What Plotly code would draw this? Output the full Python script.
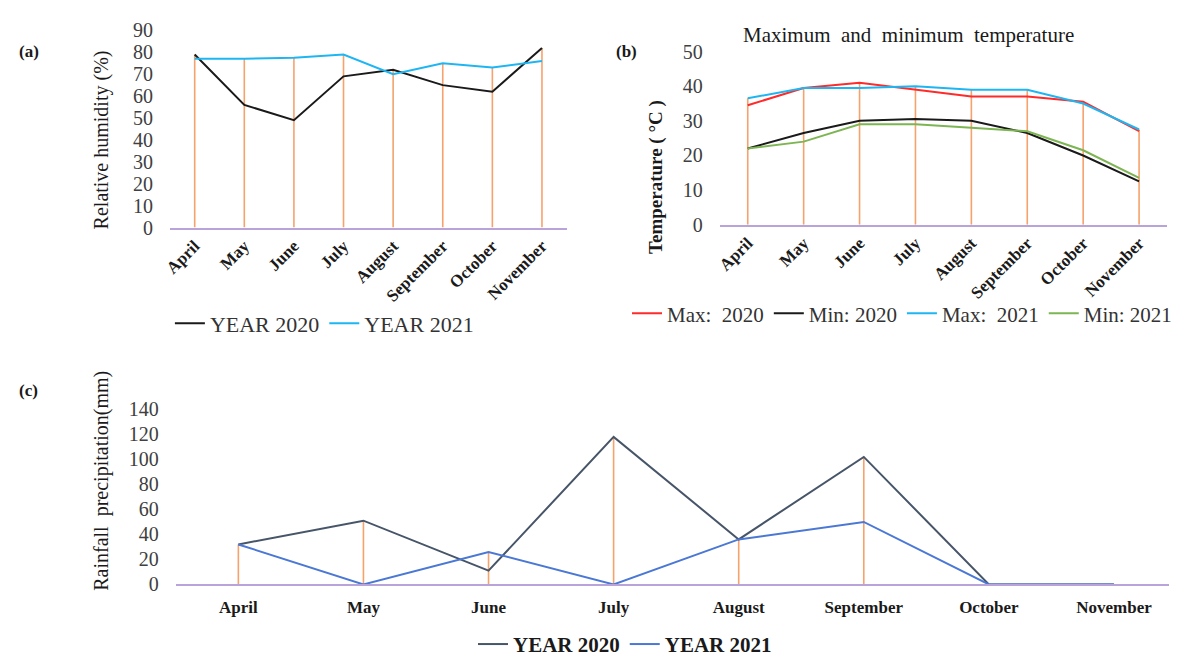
import plotly.graph_objects as go

# ---- data -------------------------------------------------------------
months = ["April", "May", "June", "July", "August", "September", "October", "November"]

# (a) relative humidity (%)
rh_2020 = [79, 56, 49, 69, 72, 65, 62, 82]
rh_2021 = [77, 77, 77.5, 79, 70, 75, 73, 76]

# (b) temperature (°C)
tmax_2020 = [34.5, 39.5, 41, 39, 37, 37, 35.5, 27]
tmin_2020 = [22, 26.5, 30, 30.5, 30, 26.5, 20, 12.5]
tmax_2021 = [36.5, 39.5, 39.5, 40, 39, 39, 35, 27.5]
tmin_2021 = [22, 24, 29, 29, 28, 27, 21.5, 13.5]

# (c) rainfall (mm)
rain_2020 = [32, 51, 11, 118, 36, 102, 0, 0]
rain_2021 = [32, 0, 26, 0, 36, 50, 0, 0]

# ---- styling ----------------------------------------------------------
W, H = 1177, 667
SERIF = "Liberation Serif"
DROP = "#F5A26C"
AXIS = "#B9A3DB"
TICK_GREY = "#404040"

pos = list(range(len(months)))


def px_x(a, b):
    return [a / W, b / W]


def px_y(top, bottom):
    return [1 - bottom / H, 1 - top / H]


def drop_lines(series_list, xa, ya):
    xs, ys = [], []
    for i in pos:
        top = max(s[i] for s in series_list)
        if top > 0:
            xs += [i, i, None]
            ys += [0, top, None]
    return go.Scatter(x=xs, y=ys, mode="lines", line=dict(color=DROP, width=1.6),
                      hoverinfo="skip", showlegend=False, xaxis=xa, yaxis=ya)


fig = go.Figure()

# (a) humidity
fig.add_trace(drop_lines([rh_2020, rh_2021], "x", "y"))
fig.add_trace(go.Scatter(x=pos, y=rh_2020, mode="lines", name="YEAR 2020",
                         line=dict(color="#1A1A1A", width=2), xaxis="x", yaxis="y", legend="legend"))
fig.add_trace(go.Scatter(x=pos, y=rh_2021, mode="lines", name="YEAR 2021",
                         line=dict(color="#1EB6F2", width=2), xaxis="x", yaxis="y", legend="legend"))

# (b) temperature
fig.add_trace(drop_lines([tmax_2020, tmin_2020, tmax_2021, tmin_2021], "x2", "y2"))
for name, vals, col in [("Max:  2020", tmax_2020, "#FF2A2A"),
                        ("Min: 2020", tmin_2020, "#1A1A1A"),
                        ("Max:  2021", tmax_2021, "#1EB6F2"),
                        ("Min: 2021", tmin_2021, "#7DB553")]:
    fig.add_trace(go.Scatter(x=pos, y=vals, mode="lines", name=name,
                             line=dict(color=col, width=2), xaxis="x2", yaxis="y2", legend="legend2"))

# (c) rainfall
fig.add_trace(drop_lines([rain_2020, rain_2021], "x3", "y3"))
fig.add_trace(go.Scatter(x=pos, y=rain_2020, mode="lines", name="YEAR 2020",
                         line=dict(color="#475569", width=2), xaxis="x3", yaxis="y3", legend="legend3"))
fig.add_trace(go.Scatter(x=pos, y=rain_2021, mode="lines", name="YEAR 2021",
                         line=dict(color="#4A78D4", width=2), xaxis="x3", yaxis="y3", legend="legend3"))

xcommon = dict(tickvals=pos, ticktext=months, showgrid=False, zeroline=False,
               showline=True, linecolor=AXIS, linewidth=1.5, ticks="",
               tickfont=dict(family=SERIF, size=17, color="#1A1A1A", weight="bold"))
ycommon = dict(showgrid=False, zeroline=False, showline=False, ticks="",
               ticklabelstandoff=16,
               tickfont=dict(family=SERIF, size=20, color=TICK_GREY))

fig.update_layout(
    width=W, height=H,
    margin=dict(l=0, r=0, t=0, b=0),
    paper_bgcolor="white", plot_bgcolor="white",
    font=dict(family=SERIF),
    xaxis=dict(domain=px_x(165, 567), range=[-0.5, 7.5], tickangle=-45, anchor="y", **xcommon),
    yaxis=dict(domain=px_y(20, 224), range=[0, 90], dtick=10, anchor="x", **ycommon),
    xaxis2=dict(domain=px_x(722, 1175), range=[-0.5, 7.5], tickangle=-45, anchor="y2", **xcommon),
    yaxis2=dict(domain=px_y(42, 221), range=[0, 50], dtick=10, anchor="x2", **ycommon),
    xaxis3=dict(domain=px_x(171, 1177), range=[-0.5, 7.44], tickangle=0, anchor="y3",
                ticklabelstandoff=6, **xcommon),
    yaxis3=dict(domain=px_y(412, 593), range=[0, 140], dtick=20, anchor="x3", **ycommon),
    legend=dict(orientation="h", x=165 / W, y=1 - 323 / H, xanchor="left", yanchor="middle",
                font=dict(family=SERIF, size=22, color="#333333"), itemwidth=30,
                bgcolor="rgba(0,0,0,0)"),
    legend2=dict(orientation="h", x=628 / W, y=1 - 313 / H, xanchor="left", yanchor="middle",
                 font=dict(family=SERIF, size=21, color="#333333"), itemwidth=30,
                 bgcolor="rgba(0,0,0,0)"),
    legend3=dict(orientation="h", x=472 / W, y=1 - 655 / H, xanchor="left", yanchor="middle",
                 font=dict(family=SERIF, size=21, color="#1A1A1A", weight="bold"), itemwidth=30,
                 bgcolor="rgba(0,0,0,0)"),
)

annotations = [
    dict(text="<b>(a)</b>", x=10, y=42, size=17, angle=0),
    dict(text="<b>(b)</b>", x=615, y=42, size=17, angle=0),
    dict(text="<b>(c)</b>", x=10, y=392, size=17, angle=0),
    dict(text="Maximum  and  minimum  temperature", x=913, y=25, size=21, angle=0),
    dict(text="Relative humidity (%)", x=96, y=133, size=20, angle=-90),
    dict(text="<b>Temperature ( °C )</b>", x=658, y=172, size=19, angle=-90),
    dict(text="Rainfall  precipitation(mm)", x=96, y=486, size=20, angle=-90),
]
for a in annotations:
    fig.add_annotation(text=a["text"], x=a["x"] / W, y=1 - a["y"] / H, xref="paper", yref="paper",
                       xanchor="left" if a["text"].startswith("<b>(") else "center", yanchor="middle",
                       showarrow=False, textangle=a["angle"],
                       font=dict(family=SERIF, size=a["size"], color="#1A1A1A"))

fig.write_html("out.html")
